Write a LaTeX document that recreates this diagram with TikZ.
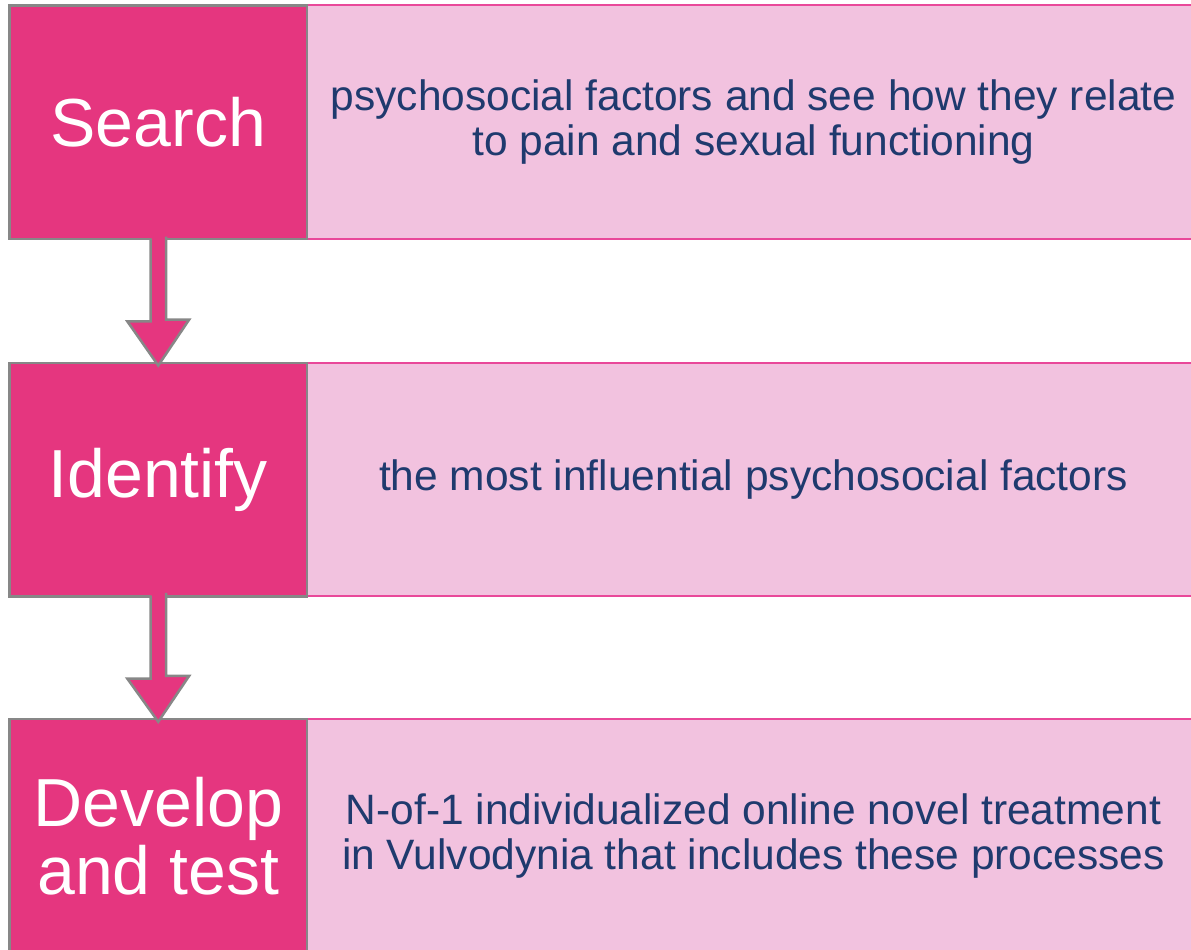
\documentclass[tikz,border=0pt]{standalone}
\usepackage{fontspec}
\setmainfont{Liberation Sans}
\definecolor{stepPink}{HTML}{E5367F}
\definecolor{descPink}{HTML}{F2C2DF}
\definecolor{descLine}{HTML}{E9489A}
\definecolor{frameGray}{HTML}{878787}
\definecolor{textBlue}{HTML}{1F3A6E}
\begin{document}
\begin{tikzpicture}[x=1pt,y=-1pt]
                \useasboundingbox (0,0) rectangle (1191,950);
                \begin{scope}[every node/.style={rectangle, fill=descPink, draw=descLine, line width=2pt,
                    minimum width=893pt, minimum height=233.5pt, inner sep=0pt, align=center,
                    text=textBlue, font=\fontsize{42.5}{45}\selectfont}]
                    \node (d1) at (753.5,122.25) {psychosocial factors and see how they relate\\to pain and sexual functioning};
                    \node (d2) at (753.5,479.5) {the most influential psychosocial factors};
                    \node (d3) at (753.5,835.75) {N-of-1 individualized online novel treatment\\in Vulvodynia that includes these processes};
                \end{scope}
                \begin{scope}[every node/.style={rectangle, fill=stepPink, draw=frameGray, line width=2.5pt,
                    minimum width=297.5pt, minimum height=233.5pt, inner sep=0pt, align=center,
                    text=white, font=\fontsize{68}{68}\selectfont}]
                    \node (s1) at (158.25,122.25) {Search};
                    \node (s2) at (158.25,479.5) {Identify};
                    \node (s3) at (158.25,835.75) {Develop\\and test};
                \end{scope}
                \begin{scope}[arrowbody/.style={fill=stepPink, draw=frameGray, line width=2.5pt, miter limit=10}]
                    \filldraw[arrowbody] ([xshift=-7.75pt,yshift=2pt]s1.south) -- ++(0,83) -- ++(-23.25,0)
                        -- ([yshift=-4pt]s2.north) -- ++(31,-46) -- ++(-23.25,0) -- ++(0,-83);
                    \filldraw[arrowbody] ([xshift=-7.75pt,yshift=2pt]s2.south) -- ++(0,83) -- ++(-23.25,0)
                        -- ([yshift=-4pt]s3.north) -- ++(31,-46) -- ++(-23.25,0) -- ++(0,-83);
                \end{scope}
            \end{tikzpicture}
\end{document}
